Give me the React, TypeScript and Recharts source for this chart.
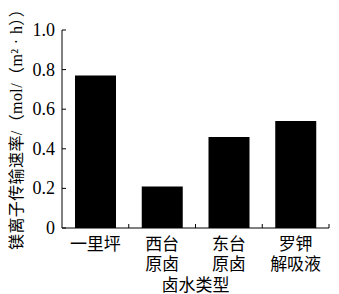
import React from 'react';
import { BarChart, Bar, XAxis, YAxis, Label } from 'recharts';

const categories = ['一里坪', '西台\n原卤', '东台\n原卤', '罗钾\n解吸液'];
const rates = [0.77, 0.21, 0.46, 0.54];
const yTicks = [0, 0.2, 0.4, 0.6, 0.8, 1.0];
const yTitle = '镁离子传输速率/（mol/（m² · h））';
const xTitle = '卤水类型';

const data = categories.map((c, i) => ({ name: c, rate: rates[i] }));

const FONT = "'Liberation Serif', 'Noto Sans CJK SC', serif";

const CatTick = (props: any) => {
  const { x, y, payload } = props;
  const lines = String(payload.value).split('\n');
  const half = Number(payload.offset) || 0;
  return (
    <g>
      <line x1={x + half} x2={x + half} y1={y} y2={y - 4} stroke="#000" />
      <text x={x} y={y} textAnchor="middle" fontSize={17} fill="#000" fontFamily={FONT}>
        {lines.map((l, i) => (
          <tspan key={i} x={x} dy={i === 0 ? 22 : 20}>{l}</tspan>
        ))}
      </text>
    </g>
  );
};

const YTick = (props: any) => {
  const { x, y, payload } = props;
  const v = Number(payload.value);
  return (
    <text x={x} y={y} textAnchor="end" dominantBaseline="central" fontSize={18} fill="#000" fontFamily={FONT}>
      {v === 0 ? '0' : v.toFixed(1)}
    </text>
  );
};

const YTitle = (props: any) => {
  const vb = props.viewBox || { x: 0, y: 30, width: 62, height: 198 };
  const cx = 16;
  const cy = vb.y + vb.height + 22;
  return (
    <text x={cx} y={cy} transform={`rotate(-90 ${cx} ${cy})`} textAnchor="start" dominantBaseline="central" fontSize={16} letterSpacing={0.4} fill="#000" fontFamily={FONT}>
      {yTitle}
    </text>
  );
};

export default function App() {
  return (
    <div style={{ position: 'absolute', left: 0, top: 0, background: '#fff', fontFamily: FONT }}>
      <BarChart width={339} height={294} data={data} margin={{ top: 30, right: 10, bottom: 0, left: 0 }}>
        <XAxis
          dataKey="name"
          tick={<CatTick />}
          tickLine={false}
          tickSize={0}
          tickMargin={0}
          axisLine={{ stroke: '#000' }}
          height={66}
          interval={0}
        >
          <Label value={xTitle} position="insideBottom" offset={3} fontSize={17} fill="#000" fontFamily={FONT} />
        </XAxis>
        <YAxis
          domain={[0, 1]}
          ticks={yTicks}
          width={62}
          tickSize={-4}
          tickMargin={11}
          axisLine={{ stroke: '#000' }}
          tickLine={{ stroke: '#000' }}
          tick={<YTick />}
          interval={0}
        >
          <Label content={<YTitle />} />
        </YAxis>
        <Bar dataKey="rate" fill="#000" barSize={41} isAnimationActive={false} />
      </BarChart>
    </div>
  );
}
